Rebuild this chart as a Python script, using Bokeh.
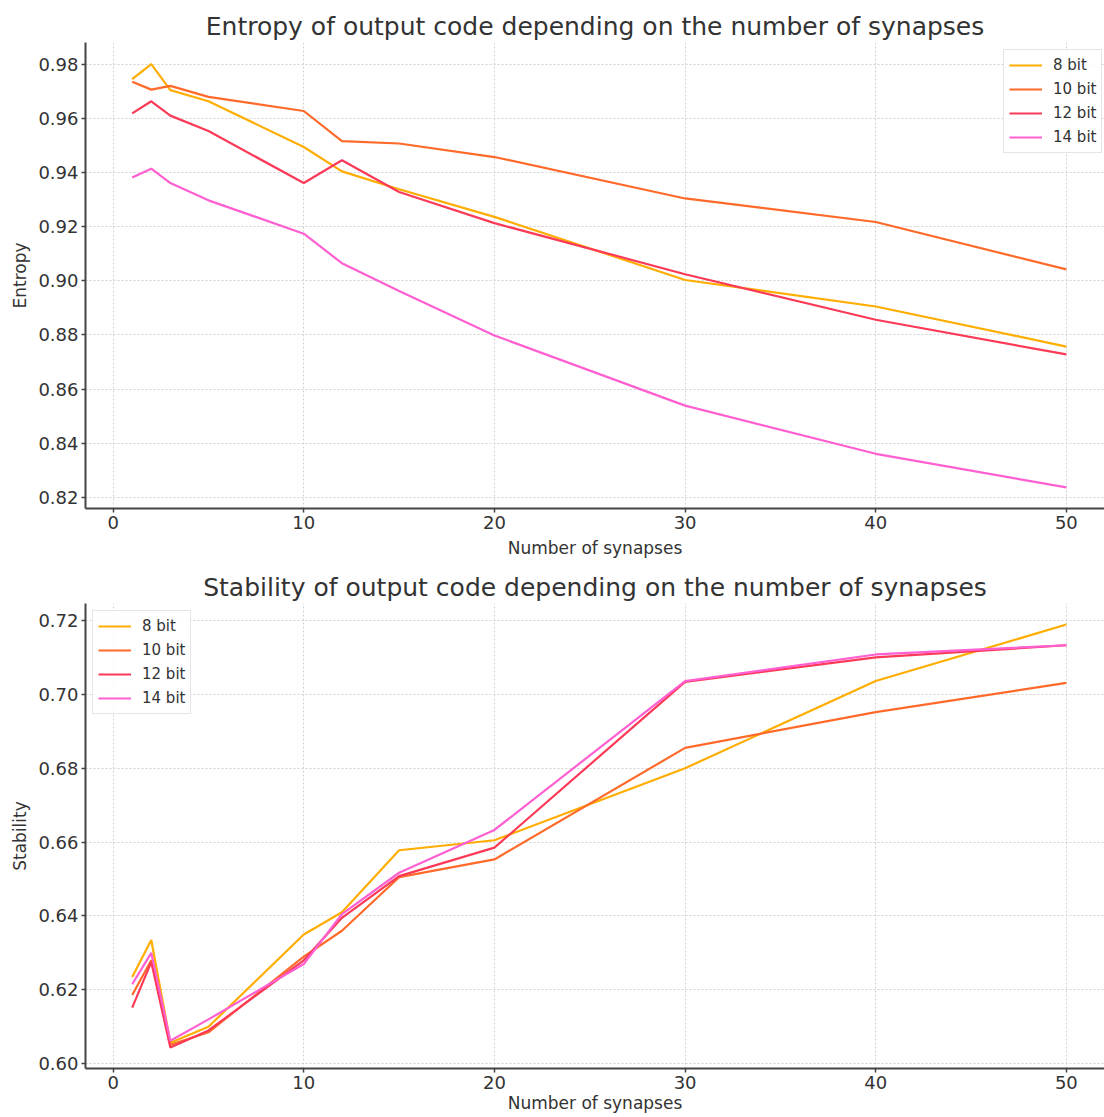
from bokeh.plotting import figure
from bokeh.layouts import column
from bokeh.models import Legend, LegendItem, Range1d, FixedTicker, NumeralTickFormatter
from bokeh.embed import file_html
from bokeh.resources import INLINE

synapses = [1, 2, 3, 5, 10, 12, 15, 20, 30, 40, 50]
labels = ["8 bit", "10 bit", "12 bit", "14 bit"]
colors = ["#ffad00", "#ff6a2a", "#fb3a58", "#ff5fd0"]

entropy_8 = [0.9745, 0.9800, 0.9704, 0.9663, 0.9494, 0.9404, 0.9338, 0.9236, 0.9003, 0.8905, 0.8757]
entropy_10 = [0.9735, 0.9706, 0.9720, 0.9679, 0.9627, 0.9516, 0.9507, 0.9457, 0.9304, 0.9217, 0.9042]
entropy_12 = [0.9618, 0.9663, 0.9610, 0.9553, 0.9361, 0.9445, 0.9328, 0.9213, 0.9024, 0.8856, 0.8728]
entropy_14 = [0.9381, 0.9414, 0.9361, 0.9297, 0.9174, 0.9065, 0.8962, 0.8798, 0.8539, 0.8361, 0.8237]

stability_8 = [0.6235, 0.6335, 0.6057, 0.6100, 0.6350, 0.6410, 0.6578, 0.6605, 0.6800, 0.7036, 0.7189]
stability_10 = [0.6186, 0.6280, 0.6051, 0.6085, 0.6290, 0.6360, 0.6505, 0.6553, 0.6855, 0.6952, 0.7031]
stability_12 = [0.6152, 0.6275, 0.6044, 0.6090, 0.6280, 0.6395, 0.6508, 0.6585, 0.7034, 0.7100, 0.7133]
stability_14 = [0.6215, 0.6300, 0.6062, 0.6120, 0.6270, 0.6405, 0.6517, 0.6633, 0.7036, 0.7108, 0.7133]

x_ticks = [0, 10, 20, 30, 40, 50]
entropy_ticks = [0.82, 0.84, 0.86, 0.88, 0.90, 0.92, 0.94, 0.96, 0.98]
stability_ticks = [0.60, 0.62, 0.64, 0.66, 0.68, 0.70, 0.72]

FONT = "DejaVu Sans"
TXT = "#333333"


def make_fig(title, ylabel, series, yticks, yrange, height, top, bottom, legend_loc, xlab_standoff):
    p = figure(width=1104, height=height, output_backend="svg", toolbar_location=None,
               x_range=Range1d(-1.45, 52.0), y_range=Range1d(*yrange),
               min_border_left=85, min_border_right=0, min_border_top=top,
               min_border_bottom=bottom)
    p.title.text = title
    p.title.align = "center"
    p.title.offset = 4
    p.title.text_font = FONT
    p.title.text_font_size = "25px"
    p.title.text_font_style = "normal"
    p.title.text_color = TXT
    p.title.standoff = 4
    p.outline_line_color = None
    p.background_fill_color = "white"
    p.border_fill_color = "white"

    for ax in (p.xaxis[0], p.yaxis[0]):
        ax.axis_line_color = "#444444"
        ax.axis_line_width = 2
        ax.major_tick_line_color = "#444444"
        ax.major_tick_line_width = 1.5
        ax.major_tick_out = 4
        ax.major_tick_in = 0
        ax.minor_tick_line_color = None
        ax.major_label_text_font = FONT
        ax.major_label_text_font_size = "18px"
        ax.major_label_text_color = TXT
        ax.major_label_standoff = 3
        ax.axis_label_text_font = FONT
        ax.axis_label_text_font_size = "17px"
        ax.axis_label_text_font_style = "normal"
        ax.axis_label_text_color = TXT
    p.xaxis.ticker = FixedTicker(ticks=x_ticks)
    p.yaxis.ticker = FixedTicker(ticks=yticks)
    p.yaxis.formatter = NumeralTickFormatter(format="0.00")
    p.xaxis.axis_label = "Number of synapses"
    p.yaxis.axis_label = ylabel
    p.xaxis.axis_label_standoff = xlab_standoff
    p.yaxis.axis_label_standoff = 5

    for g in (p.xgrid[0], p.ygrid[0]):
        g.grid_line_color = "#d2d2d2"
        g.grid_line_dash = "2 2"
        g.grid_line_width = 1

    items = []
    for lab, col, ys in zip(labels, colors, series):
        r = p.line(synapses, ys, line_color=col, line_width=2.2)
        items.append(LegendItem(label=lab, renderers=[r]))
    leg = Legend(items=items, location=legend_loc)
    leg.label_text_font = FONT
    leg.label_text_font_size = "15px"
    leg.label_text_color = TXT
    leg.glyph_width = 33
    leg.glyph_height = 20
    leg.label_height = 20
    leg.spacing = 4
    leg.padding = 5
    leg.margin = 0
    leg.label_standoff = 11
    leg.border_line_color = "#cccccc"
    leg.border_line_width = 1
    leg.background_fill_alpha = 0.85
    p.add_layout(leg, "center")
    return p


p1 = make_fig("Entropy of output code depending on the number of synapses", "Entropy",
              [entropy_8, entropy_10, entropy_12, entropy_14], entropy_ticks,
              (0.8159, 0.9880), 562, 42, 54, (918, 355), 6)
p2 = make_fig("Stability of output code depending on the number of synapses", "Stability",
              [stability_8, stability_10, stability_12, stability_14], stability_ticks,
              (0.5987, 0.7246), 555, 41, 49, (7, 354), 1)

layout = column(p1, p2, spacing=0)
open("out.html", "w").write(file_html(layout, INLINE))
